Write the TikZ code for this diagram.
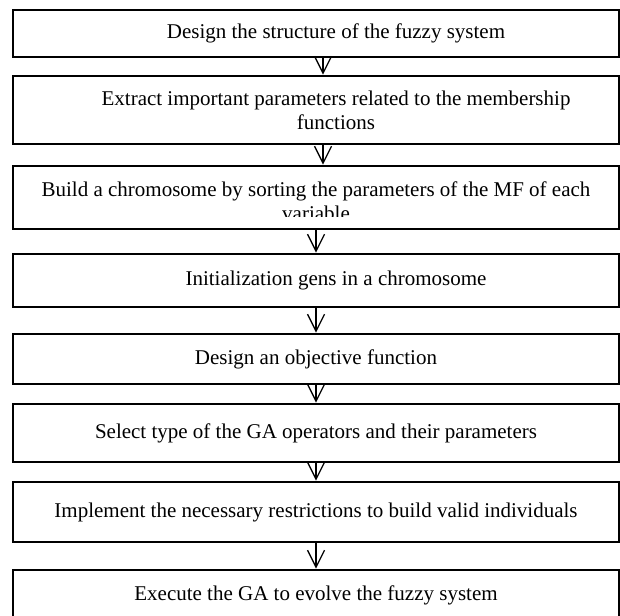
\documentclass[tikz,border=0pt]{standalone}
\usepackage{fontspec}
\setmainfont{Liberation Serif}
\usetikzlibrary{arrows.meta}

\begin{document}
\begin{tikzpicture}[x=0.5pt,y=-0.5pt]
\tikzstyle{stage}=[draw,line width=1.35pt,minimum width=303pt,inner sep=0pt,align=center,font=\fontsize{10.5}{12}\selectfont]
\tikzstyle{flow}=[-{Straight Barb[length=8.5pt,width=8.5pt]},line width=.65pt]
    \useasboundingbox (0,0) rectangle (620,615);
    \clip (0,0) rectangle (620,615);
    \node[stage,minimum height=23.5pt] (1) at (316,33.5) {\hspace*{20pt}Design the structure of the fuzzy system};
    \node[stage,minimum height=34pt] (2) at (316,110) {\hspace*{20pt}Extract important parameters related to the membership\\\hspace*{20pt}functions};
    \node[stage,minimum height=31.5pt] (3) at (316,197.5) {};
    \begin{scope}
      \clip (13,166) rectangle (619,216);
      \node[font=\fontsize{10.5}{12}\selectfont,align=center,inner sep=0pt] (3t) at (316,201.7) {Build a chromosome by sorting the parameters of the MF of each\\variable};
    \end{scope}
    \node[stage,minimum height=26.5pt] (4) at (316,280.5) {\hspace*{20pt}Initialization gens in a chromosome};
    \node[stage,minimum height=25pt] (5) at (316,359) {Design an objective function};
    \node[stage,minimum height=29pt] (6) at (316,433) {Select type of the GA operators and their parameters};
    \node[stage,minimum height=30pt] (7) at (316,512) {Implement the necessary restrictions to build valid individuals};
    \node[stage,minimum height=25pt] (8) at (316,595) {Execute the GA to evolve the fuzzy system};
    \draw[flow] ([xshift=3.5pt]1.south) to ([xshift=3.5pt]2.north);
    \draw[flow] ([xshift=3.5pt]2.south) to ([xshift=3.5pt]3.north);
    \draw[flow] (3) to (4);
    \draw[flow] (4) to (5);
    \draw[flow] (5) to (6);
    \draw[flow] (6) to (7);
    \draw[flow] (7) to (8);
  \end{tikzpicture}
\end{document}
